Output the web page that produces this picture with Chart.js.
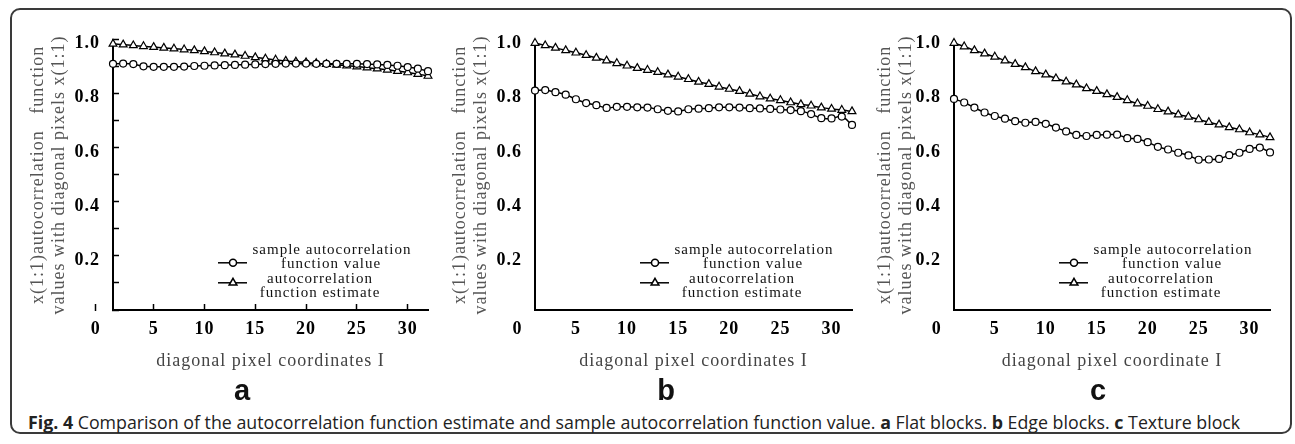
<!DOCTYPE html>
<html>
<head>
<meta charset="utf-8">
<script src="https://cdn.jsdelivr.net/npm/chart.js@4.4.1/dist/chart.umd.min.js"></script>
<style>
  html, body { margin: 0; padding: 0; background: #fff; }
  body { width: 1295px; height: 444px; position: relative; overflow: hidden; }
  .frame { position: absolute; left: 10px; top: 8px; width: 1282px; height: 426px; box-sizing: border-box;
           border: 2px solid #3a3a3a; border-radius: 10px; }
  .panel { position: absolute; top: 10px; }
  .letter { position: absolute; top: 374px; font: bold 29px "Liberation Sans", Arial, sans-serif; color: #111;
            width: 40px; margin-left: -20px; text-align: center; }
  .caption { position: absolute; left: 28px; top: 409px; font: 17.8px "Open Sans", sans-serif; color: #222;
             white-space: nowrap; line-height: 26px; }
  .caption b { font-weight: bold; }
</style>
</head>
<body>
<div class="frame"></div>
<canvas id="chartA" class="panel" style="left:20px" width="420" height="375"></canvas>
<canvas id="chartB" class="panel" style="left:442px" width="422" height="375"></canvas>
<canvas id="chartC" class="panel" style="left:861px" width="421" height="375"></canvas>
<div class="letter" style="left:242px">a</div>
<div class="letter" style="left:666px">b</div>
<div class="letter" style="left:1098px">c</div>
<div class="caption"><b>Fig. 4</b> Comparison of the autocorrelation function estimate and sample autocorrelation function value. <b>a</b> Flat blocks. <b>b</b> Edge blocks. <b>c</b> Texture block</div>

<script>
// ── 数据 ────────────────────────────────────────────────
const pixelIndex = [1, 2, 3, 4, 5, 6, 7, 8, 9, 10, 11, 12, 13, 14, 15, 16,
                    17, 18, 19, 20, 21, 22, 23, 24, 25, 26, 27, 28, 29, 30, 31, 32];

const flatSample = [0.911, 0.912, 0.910, 0.902, 0.900, 0.900, 0.900, 0.901, 0.903, 0.904, 0.905, 0.906,
                    0.907, 0.908, 0.909, 0.910, 0.911, 0.912, 0.912, 0.912, 0.911, 0.911, 0.911, 0.911,
                    0.911, 0.910, 0.909, 0.907, 0.904, 0.899, 0.893, 0.884];
const flatEstimate = [0.985, 0.982, 0.979, 0.976, 0.973, 0.970, 0.967, 0.964, 0.961, 0.957, 0.953, 0.949,
                      0.945, 0.940, 0.935, 0.930, 0.926, 0.922, 0.919, 0.916, 0.913, 0.910, 0.907, 0.904,
                      0.901, 0.897, 0.893, 0.889, 0.884, 0.879, 0.873, 0.866];

const edgeSample = [0.812, 0.814, 0.806, 0.797, 0.780, 0.766, 0.758, 0.748, 0.752, 0.752, 0.750, 0.749,
                    0.743, 0.737, 0.735, 0.743, 0.745, 0.747, 0.750, 0.750, 0.749, 0.747, 0.746, 0.744,
                    0.742, 0.740, 0.736, 0.725, 0.710, 0.709, 0.716, 0.685];
const edgeEstimate = [0.988, 0.979, 0.970, 0.961, 0.952, 0.943, 0.933, 0.923, 0.913, 0.904, 0.895, 0.888,
                      0.880, 0.871, 0.863, 0.854, 0.844, 0.836, 0.826, 0.818, 0.810, 0.800, 0.790, 0.782,
                      0.776, 0.768, 0.761, 0.756, 0.749, 0.744, 0.740, 0.735];

const textureSample = [0.781, 0.768, 0.749, 0.731, 0.718, 0.708, 0.699, 0.693, 0.696, 0.689, 0.675, 0.661,
                       0.648, 0.644, 0.648, 0.649, 0.649, 0.636, 0.633, 0.621, 0.604, 0.594, 0.582, 0.572,
                       0.556, 0.557, 0.559, 0.573, 0.582, 0.596, 0.601, 0.583];
const textureEstimate = [0.988, 0.975, 0.961, 0.949, 0.937, 0.923, 0.910, 0.898, 0.883, 0.871, 0.857, 0.845,
                         0.834, 0.820, 0.810, 0.798, 0.788, 0.776, 0.764, 0.755, 0.743, 0.734, 0.723, 0.715,
                         0.705, 0.695, 0.686, 0.676, 0.668, 0.657, 0.649, 0.639];

const xTickValues = [0, 5, 10, 15, 20, 25, 30];
const yTitleLines = ['x(1:1)autocorrelation   function', 'values with diagonal pixels x(1:1)'];
const legendSample = ['sample autocorrelation', 'function value'];
const legendEstimate = ['autocorrelation', 'function estimate'];

const SERIF = '"Liberation Serif", "Times New Roman", serif';

// ── 图例（画在坐标区内部） ────────────────────────────────
const insideLegend = {
  id: 'insideLegend',
  beforeDraw(chart) { chart.ctx.letterSpacing = '1px'; },
  afterDatasetsDraw(chart) {
    const { ctx, chartArea: { left, top } } = chart;
    ctx.save();
    ctx.strokeStyle = '#000';
    ctx.lineWidth = 1.5;
    [[223, 'circle', 3.5], [243, 'triangle', 4.5]].forEach(([dy, style, r]) => {
      ctx.beginPath();
      ctx.moveTo(left + 105, top + dy);
      ctx.lineTo(left + 134, top + dy);
      ctx.stroke();
      ctx.fillStyle = '#fff';
      Chart.helpers.drawPoint(ctx, { pointStyle: style, radius: r, borderWidth: 1.2, rotation: 0 }, left + 120, top + dy);
    });
    ctx.fillStyle = '#111';
    ctx.font = '15px ' + SERIF;
    ctx.textAlign = 'center';
    ctx.textBaseline = 'middle';
    ctx.fillText(legendSample[0], left + 219, top + 210);
    ctx.fillText(legendSample[1], left + 218, top + 224);
    ctx.fillText(legendEstimate[0], left + 207, top + 239);
    ctx.fillText(legendEstimate[1], left + 207, top + 253);
    ctx.restore();
  }
};

// ── 创建图表 ────────────────────────────────────────────
function makePanel(id, sample, estimate, xTitle, showTicks, yTitlePad) {
  const tickColor = showTicks ? '#000' : 'rgba(0,0,0,0)';
  const pts = (vals) => vals.map((v, i) => ({ x: pixelIndex[i], y: v }));
  new Chart(document.getElementById(id), {
    type: 'line',
    data: {
      datasets: [
        { label: 'sample autocorrelation function value', data: pts(sample), borderColor: '#000', borderWidth: 1.5,
          pointStyle: 'circle', pointRadius: 3.5, pointBorderWidth: 1.2, pointBackgroundColor: '#fff',
          pointBorderColor: '#000', tension: 0.35, clip: false },
        { label: 'autocorrelation function estimate', data: pts(estimate), borderColor: '#000', borderWidth: 1.5,
          pointStyle: 'triangle', pointRadius: 4.5, pointBorderWidth: 1.2, pointBackgroundColor: '#fff',
          pointBorderColor: '#000', tension: 0.35, clip: false }
      ]
    },
    options: {
      responsive: false, animation: false, events: [],
      layout: { padding: { top: 19, right: 12, left: 0, bottom: 0 } },
      plugins: { legend: { display: false }, tooltip: { enabled: false } },
      scales: {
        x: {
          type: 'linear', min: 1, max: 32, bounds: 'data',
          afterBuildTicks: (s) => { s.ticks = xTickValues.map(v => ({ value: v === 0 ? -0.7 : v })); },
          afterFit: (s) => { s.height = 75; },
          grid: { drawOnChartArea: false, drawTicks: true, tickLength: -6, tickColor, tickWidth: 1.5 },
          border: { display: true, color: '#000', width: 2 },
          ticks: { autoSkip: false, maxRotation: 0, padding: 15, color: '#000',
                   font: { family: SERIF, size: 18, weight: 'bold' },
                   callback: (v, i) => String(xTickValues[i]) },
          title: { display: true, text: xTitle, color: '#444', font: { family: SERIF, size: 18 }, padding: { bottom: 13 } }
        },
        y: {
          min: 0, max: 1,
          afterFit: (s) => { s.width = 93; },
          grid: { drawOnChartArea: false, drawTicks: true, tickLength: -6, tickColor, tickWidth: 1.5 },
          border: { display: true, color: '#000', width: 2 },
          ticks: { stepSize: 0.1, autoSkip: false, padding: 19, labelOffset: 4, color: '#000',
                   font: { family: SERIF, size: 18, weight: 'bold' },
                   callback: (v) => { const k = Math.round(v * 10); return k > 0 && k % 2 === 0 ? (k / 10).toFixed(1) : ''; } },
          title: { display: true, text: yTitleLines, color: '#555', font: { family: SERIF, size: 18 }, padding: { top: yTitlePad } }
        }
      }
    },
    plugins: [insideLegend]
  });
}

makePanel('chartA', flatSample, flatEstimate, 'diagonal pixel coordinates I', true, 7);
makePanel('chartB', edgeSample, edgeEstimate, 'diagonal pixel coordinates I', false, 7);
makePanel('chartC', textureSample, textureEstimate, 'diagonal pixel coordinate I', false, 13);
</script>
</body>
</html>
